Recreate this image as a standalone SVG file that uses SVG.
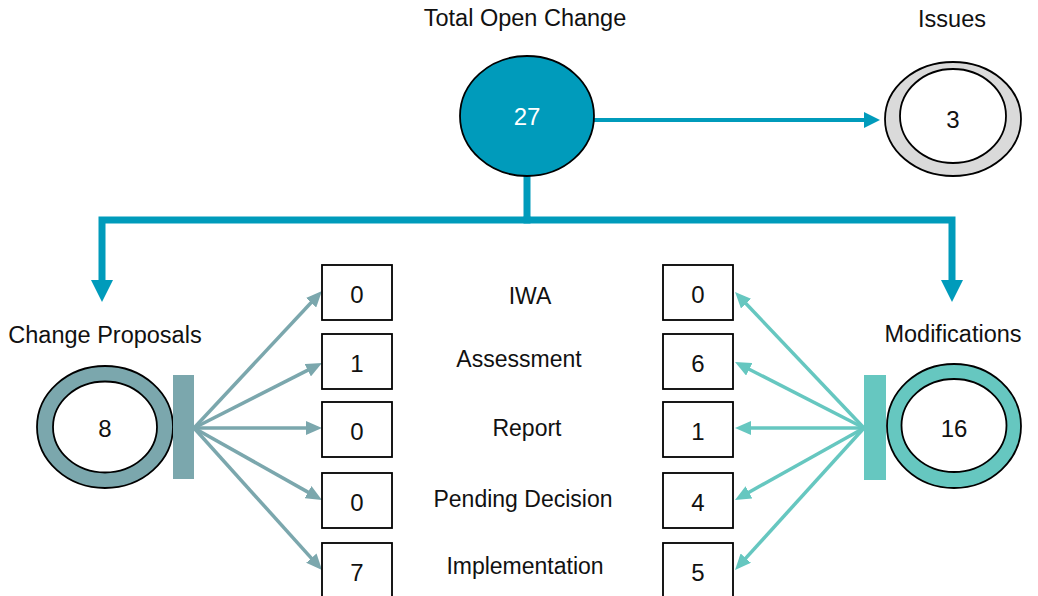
<svg xmlns="http://www.w3.org/2000/svg" width="1038" height="596" viewBox="0 0 1038 596">
<style>
text{font-family:"Liberation Sans",Arial,sans-serif;font-size:23.5px;fill:#111;text-anchor:middle}
.mid{font-size:23px}
.num{font-size:24px}
.ring{stroke:#000;stroke-width:1.8}
.box{fill:#fff;stroke:#000;stroke-width:1.8}
.main{fill:none;stroke:#009BBB;stroke-width:7;stroke-linejoin:miter}
.cp{stroke:#7BA7AD;stroke-width:3.5;fill:none}
.md{stroke:#66C7C0;stroke-width:3.5;fill:none}
</style>
<defs>
<marker id="aBig" markerUnits="userSpaceOnUse" markerWidth="22" markerHeight="22" refX="10" refY="11" orient="auto"><path d="M0,0 L22,11 L0,22 z" fill="#009BBB"/></marker>
<marker id="aTop" markerUnits="userSpaceOnUse" markerWidth="16" markerHeight="16" refX="2" refY="8" orient="auto"><path d="M0,0 L16,8 L0,16 z" fill="#009BBB"/></marker>
<marker id="aCp" markerUnits="userSpaceOnUse" markerWidth="16" markerHeight="14" refX="4" refY="7" orient="auto"><path d="M0,0 L16,7 L0,14 z" fill="#7BA7AD"/></marker>
<marker id="aMd" markerUnits="userSpaceOnUse" markerWidth="16" markerHeight="14" refX="4" refY="7" orient="auto"><path d="M0,0 L16,7 L0,14 z" fill="#66C7C0"/></marker>
</defs>

<g id="connectors">
<path class="main" d="M527,176 V220"/>
<path class="main" d="M530.5,220 H102 V290" marker-end="url(#aBig)"/>
<path class="main" d="M523.5,220 H952 V290" marker-end="url(#aBig)"/>
<path d="M594,120 H866" fill="none" stroke="#009BBB" stroke-width="4" marker-end="url(#aTop)"/>
<path class="cp" d="M194,428 L313.8,299.8" marker-end="url(#aCp)"/>
<path class="cp" d="M194,428 L311.3,368.4" marker-end="url(#aCp)"/>
<path class="cp" d="M194,428 L310,428" marker-end="url(#aCp)"/>
<path class="cp" d="M194,428 L311.5,494.1" marker-end="url(#aCp)"/>
<path class="cp" d="M194,428 L314,561.1" marker-end="url(#aCp)"/>
<path class="md" d="M864,428 L743.3,300.7" marker-end="url(#aMd)"/>
<path class="md" d="M864,428 L745.7,367.5" marker-end="url(#aMd)"/>
<path class="md" d="M864,428 L747,428" marker-end="url(#aMd)"/>
<path class="md" d="M864,428 L745.5,494.2" marker-end="url(#aMd)"/>
<path class="md" d="M864,428 L743.1,561.1" marker-end="url(#aMd)"/>
</g>

<g id="total">
<text x="525" y="26">Total Open Change</text>
<ellipse class="ring" cx="527" cy="116" rx="67" ry="60" fill="#009BBB"/>
<text class="num" x="527" y="125" style="fill:#fff">27</text>
</g>

<g id="issues">
<text x="952" y="27">Issues</text>
<ellipse class="ring" cx="953" cy="119" rx="68" ry="57" fill="#DADADA"/>
<ellipse class="ring" cx="953" cy="116" rx="53" ry="47" fill="#fff"/>
<text class="num" x="953" y="128">3</text>
</g>

<g id="change-proposals">
<text x="105" y="343">Change Proposals</text>
<ellipse class="ring" cx="105" cy="427" rx="68" ry="61" fill="#7BA7AD"/>
<ellipse class="ring" cx="105" cy="427" rx="52" ry="45.5" fill="#fff"/>
<text class="num" x="105" y="437">8</text>
<rect x="173" y="375" width="21" height="104" fill="#7BA7AD"/>
</g>

<g id="modifications">
<text x="953" y="342">Modifications</text>
<ellipse class="ring" cx="954" cy="426" rx="67" ry="62" fill="#66C7C0"/>
<ellipse class="ring" cx="954" cy="425.5" rx="52.5" ry="46.5" fill="#fff"/>
<text class="num" x="954" y="437">16</text>
<rect x="864" y="375" width="22" height="105" fill="#66C7C0"/>
</g>

<g id="labels">
<text class="mid" x="530" y="304">IWA</text>
<text class="mid" x="519" y="367">Assessment</text>
<text class="mid" x="527" y="436">Report</text>
<text class="mid" x="523" y="507">Pending Decision</text>
<text class="mid" x="525" y="574">Implementation</text>
</g>

<g id="cp-boxes">
<rect class="box" x="322" y="265" width="70" height="55"/><text class="num" x="357" y="303">0</text>
<rect class="box" x="322" y="334" width="70" height="55"/><text class="num" x="357" y="372">1</text>
<rect class="box" x="322" y="402" width="70" height="55"/><text class="num" x="357" y="440">0</text>
<rect class="box" x="322" y="473" width="70" height="55"/><text class="num" x="357" y="511">0</text>
<rect class="box" x="322" y="543" width="70" height="55"/><text class="num" x="357" y="581">7</text>
</g>

<g id="md-boxes">
<rect class="box" x="663" y="265" width="70" height="55"/><text class="num" x="698" y="303">0</text>
<rect class="box" x="663" y="334" width="70" height="55"/><text class="num" x="698" y="372">6</text>
<rect class="box" x="663" y="402" width="70" height="55"/><text class="num" x="698" y="440">1</text>
<rect class="box" x="663" y="473" width="70" height="55"/><text class="num" x="698" y="511">4</text>
<rect class="box" x="663" y="543" width="70" height="55"/><text class="num" x="698" y="581">5</text>
</g>
</svg>
